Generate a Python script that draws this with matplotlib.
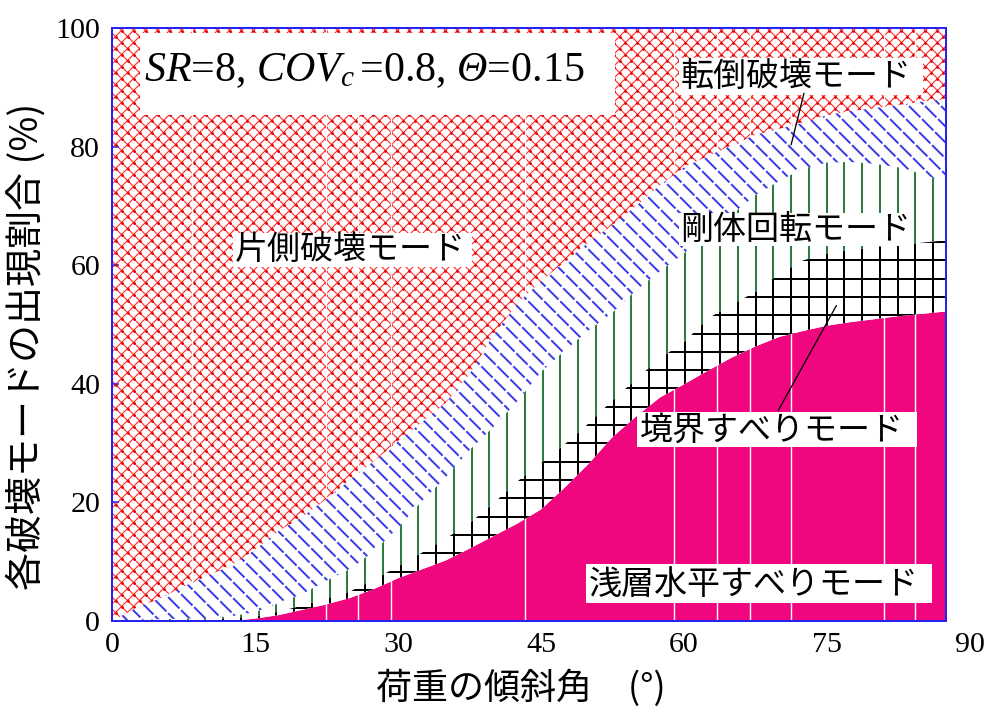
import numpy as np
import matplotlib
matplotlib.use("Agg")
import matplotlib.pyplot as plt
from matplotlib.collections import LineCollection
from matplotlib.transforms import Affine2D

# ---- data: share of each failure mode (%) vs. load inclination (deg) ----
angle = [0, 2.5, 5, 7.5, 10, 12.5, 15, 17.5, 20, 22.5, 25, 27.5, 30, 32.5, 35, 37.5,
         40, 42.5, 45, 47.5, 50, 52.5, 55, 57.5, 60, 62.5, 65, 67.5, 70, 72.5, 75,
         77.5, 80, 82.5, 85, 87.5]
shallow_sliding = [0, 0, 0, 0, 0, 0, 0.4, 1.0, 1.9, 2.8, 3.9, 5.4, 7.2, 8.7, 10.2, 12.2,
                   14.3, 16.4, 18.8, 22.5, 26.5, 31.0, 34.5, 37.7, 39.9, 42.2, 44.4, 46.3,
                   47.9, 48.9, 49.8, 50.4, 50.9, 51.4, 51.8, 52.2]
boundary_sliding = [0, 0, 0, 0.1, 0.3, 0.5, 0.4, 0.6, 0.7, 1.0, 1.1, 1.6, 2.0, 2.8, 3.7, 4.3,
                    5.5, 7.1, 7.8, 7.3, 6.8, 6.2, 6.3, 6.6, 7.1, 8.8, 8.9, 9.2, 10.6, 11.9,
                    12.2, 12.2, 12.1, 12.0, 12.0, 12.0]
rigid_rotation = [0, 0.2, 0.3, 0.3, 0.2, 0.3, 0.7, 1.4, 2.0, 3.0, 3.8, 4.8, 6.5, 8.7, 10.3, 12.3,
                  12.9, 13.5, 15.4, 15.8, 15.7, 14.8, 15.0, 14.7, 15.0, 14.3, 15.2, 16.3, 15.7,
                  15.5, 15.3, 14.8, 14.1, 13.1, 11.6, 9.8]
overturning = [0, 2.0, 3.5, 5.4, 7.1, 8.6, 10.5, 12.2, 13.0, 13.8, 15.0, 15.2, 14.6, 13.3, 12.6,
               12.8, 15.5, 16.5, 15.3, 15.0, 14.8, 14.8, 14.2, 14.5, 14.5, 13.1, 11.7, 10.2, 8.8,
               7.7, 8.0, 8.6, 9.4, 10.5, 12.2, 14.0]
one_sided = [100, 97.8, 96.2, 94.2, 92.4, 90.6, 88.0, 84.8, 82.4, 79.4, 76.2, 73.0, 69.7, 66.5,
             63.2, 58.4, 51.8, 46.5, 42.7, 39.4, 36.2, 33.2, 30.0, 26.5, 23.5, 21.6, 19.8, 18.0,
             17.0, 16.0, 14.7, 14.0, 13.5, 13.0, 12.4, 12.0]

x_ticks = [0, 15, 30, 45, 60, 75, 90]
y_ticks = [0, 20, 40, 60, 80, 100]

mode_names = ["浅層水平すべりモード", "境界すべりモード", "剛体回転モード",
              "転倒破壊モード", "片側破壊モード"]
param_text = r"$SR$=8, $COV_{c}\,$=0.8, $Θ$=0.15"

# ---- figure geometry (pixels) ----
DPI = 72
FIG_W, FIG_H = 986, 710
AX_L, AX_T, AX_R, AX_B = 112, 28, 946, 621
AX_W, AX_H = AX_R - AX_L, AX_B - AX_T

CJK = "Noto Sans CJK JP"
plt.rcParams["font.family"] = ["Liberation Serif", CJK]
# the only math in the figure is the parameter line: symbols all set in italic
plt.rcParams["mathtext.fontset"] = "custom"
plt.rcParams["mathtext.rm"] = "Liberation Serif:italic"
plt.rcParams["mathtext.it"] = "Liberation Serif:italic"

BLUE_AX = "#2424EE"
MAGENTA = "#F0077F"
RED = "#FF2626"
BLUE = "#3C3CEA"
GREEN = "#2E7D3E"

fig = plt.figure(figsize=(FIG_W / DPI, FIG_H / DPI), dpi=DPI)
ax = fig.add_axes([AX_L / FIG_W, 1 - AX_B / FIG_H, AX_W / FIG_W, AX_H / FIG_H])
ax.set_xlim(0, 87.5)
ax.set_ylim(0, 100)

x = np.asarray(angle, float)
layers = np.array([shallow_sliding, boundary_sliding, rigid_rotation, overturning, one_sided], float)
tops = np.cumsum(layers, axis=0)
bottoms = np.vstack([np.zeros_like(x), tops[:-1]])

# transform for hatch geometry expressed in axes pixels
px = Affine2D().scale(1 / AX_W, 1 / AX_H) + ax.transAxes


def band(i, **kw):
    return ax.fill_between(x, bottoms[i], tops[i], linewidth=0, **kw)


def clipped(artist, poly):
    artist.set_clip_path(poly.get_paths()[0], poly.get_transform())
    return artist


def hatch(poly, segs, color, lw, z, **kw):
    lc = LineCollection(segs, colors=color, linewidths=lw, transform=px, zorder=z, **kw)
    ax.add_collection(lc, autolim=False)
    return clipped(lc, poly)


vert = [[(v, 0), (v, AX_H)] for v in np.arange(4.7, AX_W, 17.75)]
horiz = [[(0, h), (AX_W, h)] for h in np.arange(12.9, AX_H, 18.3)]
diag_back = [[(x0, AX_H), (x0 + AX_H, 0)] for x0 in np.arange(-AX_H, AX_W, 16.0)]
red_step = 12.0
red_x0 = np.arange(-AX_H, AX_W + red_step, red_step)
red_fwd = [[(x0, 0), (x0 + AX_H, AX_H)] for x0 in red_x0]
red_back = [[(x0, AX_H), (x0 + AX_H, 0)] for x0 in red_x0]

# shallow horizontal sliding: solid magenta
p_shallow = band(0, facecolor=MAGENTA, edgecolor="none", zorder=1)

# boundary sliding: black grid
p_boundary = band(1, facecolor="white", edgecolor="none", zorder=1)
hatch(p_boundary, vert + horiz, "black", 2.0, 1.5)

# rigid rotation: green verticals
p_rigid = band(2, facecolor="white", edgecolor="none", zorder=1)
hatch(p_rigid, vert, GREEN, 2.0, 1.5)

# overturning: blue back-diagonals
p_over = band(3, facecolor="white", edgecolor="none", zorder=1)
hatch(p_over, diag_back, BLUE, 2.0, 1.5, linestyles=[(0, (8, 1.2))])

# one-sided failure: red cross-hatch with dotted crossings
p_one = band(4, facecolor="white", edgecolor="none", zorder=1)
hatch(p_one, red_fwd + red_back, RED, 1.1, 1.5)
A, B = np.meshgrid(red_x0, red_x0)
cx = (AX_H + A + B) / 2
cy = cx - A
keep = (cx >= -2) & (cx <= AX_W + 2) & (cy >= -2) & (cy <= AX_H + 2)
dots, = ax.plot(cx[keep], cy[keep], "o", ms=2.8, mec="none", mfc="#DD0000",
                transform=px, zorder=1.6)
clipped(dots, p_one)

# thin white streaks through the solid/red areas
streak_angles = [8.4, 22.5, 25.8, 29.3, 43.3, 59.0, 63.5, 66.9, 71.2, 81.0, 84.3]
for poly in (p_shallow, p_one):
    vl = ax.vlines(streak_angles, 0, 100, colors="white", linewidth=1.4, zorder=1.7)
    clipped(vl, poly)

# ---- label boxes ----
def label(x0, y0, x1, y1, tx, ty, s, size, **kw):
    ax.add_patch(plt.Rectangle((x0, y0), x1 - x0, y1 - y0, facecolor="white",
                               edgecolor="none", zorder=3))
    ax.text(tx, ty, s, fontsize=size, zorder=4, **kw)


label(2.9, 85.3, 52.8, 99.2, 3.4, 91.0, param_text, 42, va="baseline")
label(59.5, 88.7, 85.1, 94.9, 59.7, 91.9, mode_names[3], 33, va="center", family=CJK)
label(59.5, 63.2, 83.0, 68.8, 59.6, 66.0, mode_names[2], 33, va="center", family=CJK)
label(12.7, 59.7, 37.8, 65.4, 12.9, 62.6, mode_names[4], 33, va="center", family=CJK)
label(55.1, 29.3, 84.5, 35.2, 55.4, 32.2, mode_names[1], 33, va="center", family=CJK)
label(49.7, 3.0, 86.0, 9.6, 50.0, 6.2, mode_names[0], 33, va="center", family=CJK)

# leader lines
ax.annotate("", xy=(71.25, 80.3), xytext=(72.6, 89.0),
            arrowprops=dict(arrowstyle="-", lw=1.3, color="black", shrinkA=0, shrinkB=0),
            zorder=5)
ax.annotate("", xy=(76.0, 53.2), xytext=(69.9, 35.5),
            arrowprops=dict(arrowstyle="-", lw=1.3, color="black", shrinkA=0, shrinkB=0),
            zorder=5)

# ---- axes styling ----
for sp in ax.spines.values():
    sp.set_color(BLUE_AX)
    sp.set_linewidth(2)
    sp.set_zorder(6)

ax.set_yticks(y_ticks)
ax.set_xticks([t for t in x_ticks if t <= 87.5])
ax.tick_params(axis="y", direction="in", length=7, width=1.5, color=BLUE_AX,
               labelsize=30, pad=12)
ax.tick_params(axis="x", length=0, labelsize=30, pad=11)
for t in x_ticks:
    if t > 87.5:
        ax.annotate(str(t), xy=(t, 0), xycoords=("data", "axes fraction"),
                    xytext=(0, -11), textcoords="offset points", ha="center",
                    va="top", fontsize=30, annotation_clip=False)

fig.text(521 / FIG_W, 1 - 688 / FIG_H, "荷重の傾斜角　(°)", ha="center", va="center",
         fontsize=36, family=CJK)
fig.text(27 / FIG_W, 1 - 346 / FIG_H, "各破壊モードの出現割合 (%)", ha="center",
         va="center", rotation=90, fontsize=38, family=CJK)

fig.savefig("out.png", dpi=DPI)
